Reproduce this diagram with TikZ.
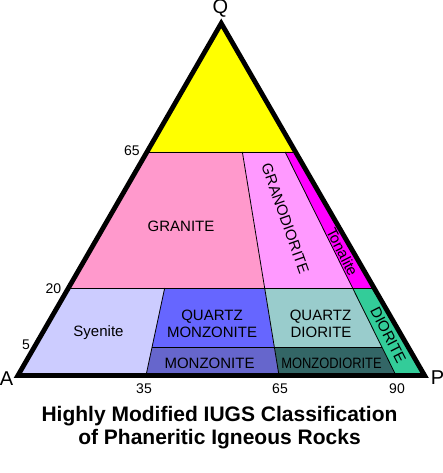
\documentclass[tikz,border=0pt]{standalone}
\usepackage{fontspec}
\usepackage{graphicx}
\setmainfont{Liberation Sans}
\usetikzlibrary{calc}
\definecolor{cyellow}{HTML}{FFFF00}
\definecolor{cgranite}{HTML}{FF99CC}
\definecolor{cgranodio}{HTML}{FF99FF}
\definecolor{ctonalite}{HTML}{FF00FF}
\definecolor{csyenite}{HTML}{CCCCFF}
\definecolor{cqmonz}{HTML}{6666FF}
\definecolor{cmonz}{HTML}{6666CC}
\definecolor{cqdio}{HTML}{99CCCC}
\definecolor{cmonzodio}{HTML}{336666}
\definecolor{cdiorite}{HTML}{33CC99}
\begin{document}
\begin{tikzpicture}[x=1pt,y=-1pt,
  lab/.style={inner sep=0pt, font=\fontsize{15}{18}\selectfont},
  num/.style={inner sep=0pt, anchor=base, font=\fontsize{14}{17}\selectfont},
  corner/.style={inner sep=0pt, anchor=base, font=\fontsize{20}{24}\selectfont},
  ttl/.style={inner sep=0pt, anchor=base, font=\bfseries\fontsize{21}{25}\selectfont},
  divider/.style={line width=0.8pt, black},
  rim/.style={line width=4.8pt, black, line join=miter}]
\useasboundingbox (0,0) rectangle (442,473);
% main points
\coordinate (Q) at (221.25,23.3);
\coordinate (A) at (17.9,375.5);
\coordinate (P) at (424.6,375.5);
\coordinate (b35) at (146,375.5);
\coordinate (b65) at (279,375.5);
\coordinate (b90) at (396,375.5);
% row at 65
\coordinate (L1) at ($(Q)!0.3654!(A)$);
\coordinate (R1) at ($(Q)!0.3654!(P)$);
\coordinate (g1) at ($(Q)!0.3654!(b65)$);
\coordinate (t1) at ($(Q)!0.3654!(b90)$);
% row at 20
\coordinate (L2) at ($(Q)!0.7516!(A)$);
\coordinate (R2) at ($(Q)!0.7516!(P)$);
\coordinate (s2) at ($(Q)!0.7516!(b35)$);
\coordinate (g2) at ($(Q)!0.7516!(b65)$);
\coordinate (t2) at ($(Q)!0.7516!(b90)$);
% row at 5
\coordinate (s3) at ($(Q)!0.9191!(b35)$);
\coordinate (g3) at ($(Q)!0.9191!(b65)$);
\coordinate (t3) at ($(Q)!0.9191!(b90)$);
% fills
\fill[cyellow] (Q)--(L1)--(R1)--cycle;
\fill[cgranite] (L1)--(g1)--(g2)--(L2)--cycle;
\fill[cgranodio] (g1)--(t1)--(t2)--(g2)--cycle;
\fill[ctonalite] (t1)--(R1)--(R2)--(t2)--cycle;
\fill[csyenite] (L2)--(s2)--(b35)--(A)--cycle;
\fill[cqmonz] (s2)--(g2)--(g3)--(s3)--cycle;
\fill[cmonz] (s3)--(g3)--(b65)--(b35)--cycle;
\fill[cqdio] (g2)--(t2)--(t3)--(g3)--cycle;
\fill[cmonzodio] (g3)--(t3)--(b90)--(b65)--cycle;
\fill[cdiorite] (t2)--(R2)--(P)--(b90)--cycle;
% dividers
\draw[divider] (L1)--(R1);
\draw[divider] (L2)--(R2);
\draw[divider] (s3)--(t3);
\draw[divider] (s2)--(b35);
\draw[divider] (g1)--(b65);
\draw[divider] (t1)--(b90);
% rim
\draw[rim] (Q)--(A)--(P)--cycle;
% region labels
\node[lab, anchor=base] (granite) at (181,231) {GRANITE};
\node[lab, anchor=base] (syenite) at (98.5,336) {Syenite};
\node[lab, anchor=base] (qm1) at (212,320) {QUARTZ};
\node[lab, anchor=base] (qm2) at (212,337) {MONZONITE};
\node[lab, anchor=base] (qd1) at (320.5,320) {QUARTZ};
\node[lab, anchor=base] (qd2) at (321,337) {DIORITE};
\node[lab, anchor=base] (monz) at (209.5,368) {MONZONITE};
\node[lab, anchor=base] (monzodio) at (331.5,368) {\scalebox{0.86}[1]{MONZODIORITE}};
\node[lab, rotate=-70.5] (granodio) at (285.3,218.7) {GRANODIORITE};
\node[lab, rotate=-63] (tonalite) at (342.3,251.7) {Tonalite};
\node[lab, rotate=-63] (diorite) at (388.3,335.3) {DIORITE};
% axis numbers
\node[num] (n65l) at (132,156) {65};
\node[num] (n20) at (53.5,293) {20};
\node[num] (n5) at (26,349) {5};
\node[num] (n35) at (144,393) {35};
\node[num] (n65b) at (280,393) {65};
\node[num] (n90) at (397,393) {90};
% corners
\node[corner] (lq) at (220.5,13.5) {Q};
\node[corner] (la) at (6.5,385) {A};
\node[corner] (lp) at (437.5,384) {P};
% title
\node[ttl] (title1) at (219.5,421.7) {Highly Modified IUGS Classification};
\node[ttl] (title2) at (219.5,444) {of Phaneritic Igneous Rocks};
\end{tikzpicture}
\end{document}
